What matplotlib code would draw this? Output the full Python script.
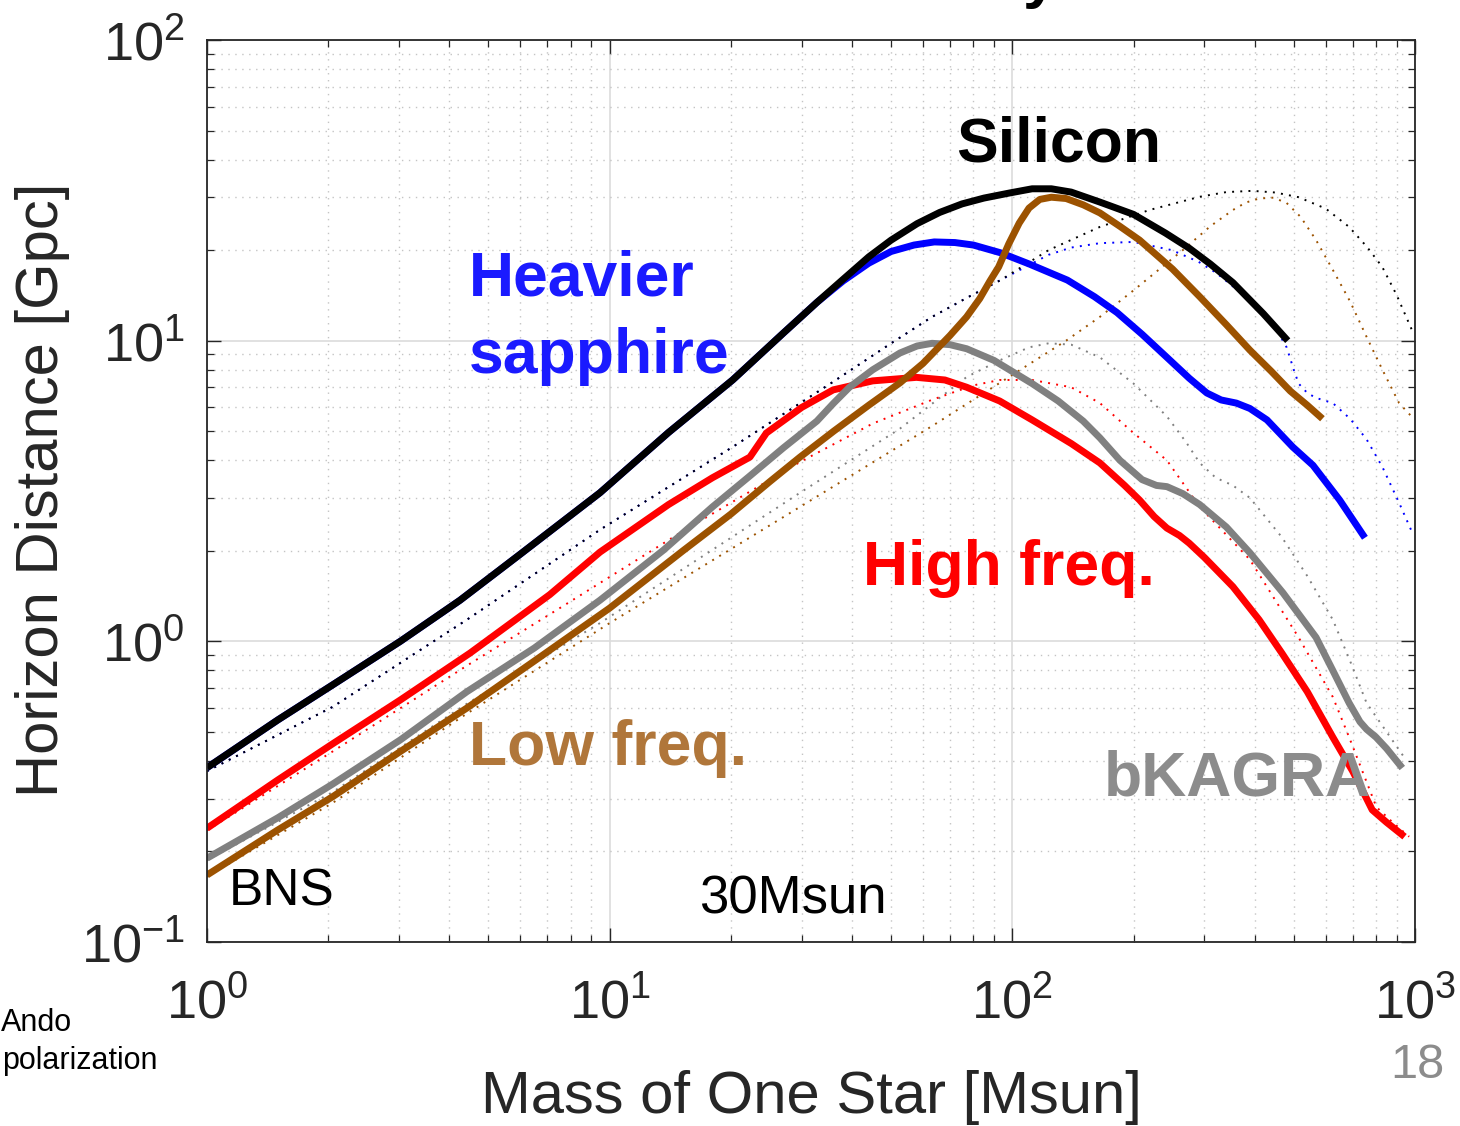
import matplotlib
matplotlib.use("Agg")
import matplotlib.pyplot as plt
from matplotlib.ticker import LogLocator, NullFormatter, LogFormatterSciNotation

plt.rcParams['font.family'] = ['Liberation Sans', 'DejaVu Sans']
plt.rcParams['mathtext.fontset'] = 'custom'
plt.rcParams['mathtext.rm'] = 'Liberation Sans'
plt.rcParams['mathtext.it'] = 'Liberation Sans:italic'
plt.rcParams['mathtext.bf'] = 'Liberation Sans:bold'

# ---------------- data (mass of one star [Msun], horizon distance [Gpc]) -------------
silicon_m = [1, 1.5, 2.05, 3.02, 4.25, 6, 9.46, 14, 20.2, 27, 32.7, 38, 44, 50, 58, 66, 75,
             85, 98.6, 112, 125, 140, 165, 200, 240, 275, 310, 353, 420, 483]
silicon_d = [0.38, 0.548, 0.716, 1.0, 1.37, 1.95, 3.12, 4.95, 7.4, 10.6, 13.4, 16.0, 19.0,
             21.6, 24.5, 26.7, 28.5, 29.8, 31.0, 32.0, 32.0, 31.2, 28.9, 26.3, 22.8, 20.3,
             18.0, 15.6, 12.3, 10.0]

sapphire_m = [1, 1.5, 2.05, 3.02, 4.25, 6, 9.46, 14, 20.2, 27, 32.7, 38, 44, 50, 57, 64, 72,
              80, 93.5, 110, 137, 160, 182, 210, 242, 275, 304, 330, 360, 389, 429, 497, 558,
              650, 751]
sapphire_d = [0.38, 0.548, 0.716, 1.0, 1.37, 1.95, 3.12, 4.95, 7.4, 10.6, 13.4, 15.8, 18.1,
              19.8, 20.8, 21.3, 21.2, 20.8, 19.6, 18.0, 15.9, 14.0, 12.4, 10.5, 8.8, 7.5, 6.7,
              6.35, 6.2, 5.95, 5.45, 4.43, 3.85, 2.95, 2.21]

highf_m = [1, 1.5, 2.05, 3.02, 4.5, 7.1, 9.46, 14, 18, 22.3, 24.5, 30, 35.9, 45, 57.8, 68,
           77, 93, 112, 140, 165, 190, 207, 225, 242, 260, 275, 300, 353, 410, 467, 540, 625,
           700, 758, 783, 850, 942]
highf_d = [0.239, 0.346, 0.456, 0.638, 0.914, 1.43, 1.98, 2.85, 3.5, 4.1, 4.93, 6.0, 6.86,
           7.35, 7.55, 7.4, 7.0, 6.3, 5.45, 4.55, 3.92, 3.3, 2.95, 2.6, 2.38, 2.25, 2.12,
           1.9, 1.52, 1.18, 0.914, 0.68, 0.48, 0.37, 0.30, 0.275, 0.25, 0.224]

bkagra_m = [1, 1.5, 2.05, 3.02, 4.42, 6.5, 9.46, 13.6, 18, 22.3, 27, 32.7, 36, 39.4, 45,
            52.6, 58, 63.2, 70, 77, 90, 112, 130, 150, 165, 185, 210, 228, 242, 265, 292,
            340, 389, 470, 568, 625, 686, 730, 758, 800, 850, 930]
bkagra_d = [0.19, 0.259, 0.335, 0.47, 0.68, 0.95, 1.37, 2.01, 2.8, 3.55, 4.4, 5.4, 6.2, 7.0,
            8.0, 9.1, 9.6, 9.8, 9.7, 9.4, 8.6, 7.2, 6.3, 5.4, 4.75, 4.0, 3.45, 3.3, 3.27, 3.1,
            2.85, 2.4, 1.97, 1.45, 1.03, 0.8, 0.624, 0.54, 0.51, 0.48, 0.44, 0.379]

lowf_m = [1, 1.5, 2.05, 3.02, 4.42, 6.5, 10, 15.2, 20, 25, 29.7, 36, 44, 52.6, 60, 70, 77,
          83, 88, 92.5, 98, 104, 110, 117, 125, 136, 150, 165, 185, 207, 250, 292, 340, 389,
          440, 490, 540, 589]
lowf_d = [0.167, 0.236, 0.304, 0.43, 0.6, 0.86, 1.29, 2.0, 2.65, 3.4, 4.1, 5.0, 6.1, 7.24,
          8.4, 10.4, 12.0, 13.8, 15.8, 17.6, 21.0, 24.6, 27.6, 29.5, 30.0, 29.7, 28.3, 26.6,
          24.0, 21.6, 17.3, 14.0, 11.3, 9.3, 7.9, 6.8, 6.1, 5.5]

# dotted counterparts
silicon2_m = [1, 2.05, 4.42, 9.46, 20.2, 35.9, 50, 63.2, 78, 93.5, 123, 165, 219, 292, 340,
              395, 450, 514, 600, 686, 760, 829, 900, 990]
silicon2_d = [0.37, 0.605, 1.18, 2.35, 4.43, 7.3, 9.8, 12.0, 14.0, 15.9, 20.0, 23.9, 27.2,
              30.1, 31.2, 31.5, 31.1, 30.0, 27.5, 23.9, 20.5, 17.6, 14.2, 10.6]

sapphire2_m = [1, 2.05, 4.42, 9.46, 20.2, 35.9, 50, 63.2, 78, 93.5, 123, 140, 165, 200, 249,
               290, 321, 380, 429, 460, 480, 500, 514, 540, 568, 625, 690, 758, 830, 913, 990]
sapphire2_d = [0.37, 0.605, 1.18, 2.35, 4.43, 7.3, 9.8, 12.0, 14.0, 15.9, 19.3, 20.4, 21.1,
               21.3, 20.0, 18.3, 16.8, 14.0, 12.0, 10.5, 9.5, 8.0, 7.2, 6.7, 6.45, 6.2, 5.5,
               4.7, 3.8, 2.89, 2.26]

highf2_m = [1, 2.05, 4.42, 7.8, 15, 29.7, 45, 63.2, 80, 93, 112, 140, 165, 200, 242, 292,
            389, 514, 625, 686, 802, 880, 967]
highf2_d = [0.235, 0.43, 0.83, 1.33, 2.3, 3.95, 5.3, 6.36, 7.1, 7.4, 7.4, 7.0, 6.2, 4.93,
            4.0, 2.8, 1.87, 1.03, 0.653, 0.48, 0.281, 0.25, 0.224]

bkagra2_m = [1, 2.05, 4.42, 9.46, 29.7, 52.6, 77, 93, 110, 123, 140, 165, 200, 242, 270,
             292, 320, 353, 389, 467, 540, 625, 690, 758, 850, 938]
bkagra2_d = [0.187, 0.315, 0.62, 1.15, 3.12, 5.1, 7.57, 8.6, 9.5, 9.8, 9.7, 8.8, 7.2, 5.6,
             4.6, 3.92, 3.5, 3.3, 3.0, 2.22, 1.65, 1.18, 0.86, 0.624, 0.5, 0.413]

lowf2_m = [1, 2.05, 4.42, 10, 29.7, 63.2, 92.5, 136, 165, 200, 232, 265, 310, 353, 380, 410,
           445, 480, 520, 568, 625, 690, 758, 830, 913, 980]
lowf2_d = [0.165, 0.29, 0.575, 1.15, 2.8, 5.2, 7.2, 10.0, 12.0, 14.7, 17.3, 20.0, 24.0, 27.2,
           28.8, 29.7, 29.9, 28.7, 25.8, 21.6, 17.2, 13.5, 10.3, 8.0, 6.2, 5.6]

BLACK = '#000000'
BLUE = '#0000ff'
RED = '#ff0000'
GRAY = '#808080'
BROWN = '#9c5200'

fig = plt.figure(figsize=(14.6, 11.26), dpi=100)
ax = fig.add_axes([207 / 1460, 1 - 942 / 1126, (1415 - 207) / 1460, (942 - 40) / 1126])

dot = dict(lw=1.4, linestyle=(0, (1, 3.2)))
ax.plot(lowf2_m, lowf2_d, color=BROWN, **dot)
ax.plot(bkagra2_m, bkagra2_d, color=GRAY, **dot)
ax.plot(highf2_m, highf2_d, color=RED, **dot)
ax.plot(sapphire2_m, sapphire2_d, color=BLUE, **dot)
ax.plot(silicon2_m, silicon2_d, color=BLACK, **dot)

solid = dict(lw=5, solid_capstyle='butt', solid_joinstyle='round')
ax.plot(sapphire_m, sapphire_d, color=BLUE, **solid)
ax.plot(silicon_m, silicon_d, color=BLACK, **solid)
ax.plot(highf_m, highf_d, color=RED, **solid)
ax.plot(bkagra_m, bkagra_d, color=GRAY, **solid)
ax.plot(lowf_m, lowf_d, color=BROWN, **solid)

ax.set_xscale('log')
ax.set_yscale('log')
ax.set_xlim(1, 1000)
ax.set_ylim(0.1, 100)

ax.xaxis.set_major_locator(LogLocator(base=10, numticks=10))
ax.yaxis.set_major_locator(LogLocator(base=10, numticks=10))
ax.xaxis.set_minor_locator(LogLocator(base=10, subs=range(2, 10), numticks=20))
ax.yaxis.set_minor_locator(LogLocator(base=10, subs=range(2, 10), numticks=20))
ax.xaxis.set_major_formatter(LogFormatterSciNotation())
ax.yaxis.set_major_formatter(LogFormatterSciNotation())
ax.xaxis.set_minor_formatter(NullFormatter())
ax.yaxis.set_minor_formatter(NullFormatter())

ax.grid(True, which='major', color='#dcdcdc', lw=1.2, ls='-')
ax.grid(True, which='minor', color='#c4c4c4', lw=1.0, ls=(0, (1, 4)))
ax.set_axisbelow(True)

ax.tick_params(which='both', direction='in', top=True, right=True, colors='#262626',
               labelcolor='#262626')
ax.tick_params(which='major', length=10, width=1.0, labelsize=39)
ax.tick_params(which='minor', length=5, width=0.9)
ax.tick_params(axis='x', which='major', pad=26)
ax.tick_params(axis='y', which='major', pad=16)
for s in ax.spines.values():
    s.set_color('#262626')
    s.set_linewidth(1.3)

# axis labels
fig.text(43 / 1460, 1 - 490 / 1126, 'Horizon Distance [Gpc]', rotation=90, ha='center',
         va='center', fontsize=43, color='#262626')
fig.text(811 / 1460, 1 - 1113 / 1126, 'Mass of One Star [Msun]', ha='center',
         va='baseline', fontsize=43, color='#262626')

# annotations inside axes (axes fraction positions)
def afx(px):
    return (px - 207) / 1208

def afy(py):
    return (942 - py) / 902

ax.text(afx(956), afy(162), 'Silicon', transform=ax.transAxes, fontsize=45,
        fontweight='bold', color='#000000', ha='left', va='baseline')
ax.text(afx(469), afy(296), 'Heavier', transform=ax.transAxes, fontsize=45,
        fontweight='bold', color='#1a1aff', ha='left', va='baseline')
ax.text(afx(469), afy(373), 'sapphire', transform=ax.transAxes, fontsize=45,
        fontweight='bold', color='#1a1aff', ha='left', va='baseline')
ax.text(afx(863), afy(585), 'High freq.', transform=ax.transAxes, fontsize=45,
        fontweight='bold', color='#ff0000', ha='left', va='baseline')
ax.text(afx(469), afy(765), 'Low freq.', transform=ax.transAxes, fontsize=45,
        fontweight='bold', color='#b0763a', ha='left', va='baseline')
ax.text(afx(1104), afy(795), 'bKAGRA', transform=ax.transAxes, fontsize=45,
        fontweight='bold', color='#8c8c8c', ha='left', va='baseline')
ax.text(afx(229), afy(905), 'BNS', transform=ax.transAxes, fontsize=37,
        color='#000000', ha='left', va='baseline')
ax.text(afx(699), afy(913), '30Msun', transform=ax.transAxes, fontsize=38,
        color='#000000', ha='left', va='baseline')

# slide decorations
fig.text(1445 / 1460, 1 - 1078 / 1126, '18', ha='right', va='baseline', fontsize=35,
         color='#8c8c8c')
fig.text(1 / 1460, 1 - 1031 / 1126, 'Ando', ha='left', va='baseline', fontsize=22,
         color='#000000')
fig.text(2 / 1460, 1 - 1069 / 1126, 'polarization', ha='left', va='baseline', fontsize=22,
         color='#000000')
fig.text(1040 / 1460, 1 + 4 / 1126, 'y', ha='center', va='baseline', fontsize=45,
         fontweight='bold', color='#000000')

fig.savefig('out.png', dpi=100, facecolor='white')
